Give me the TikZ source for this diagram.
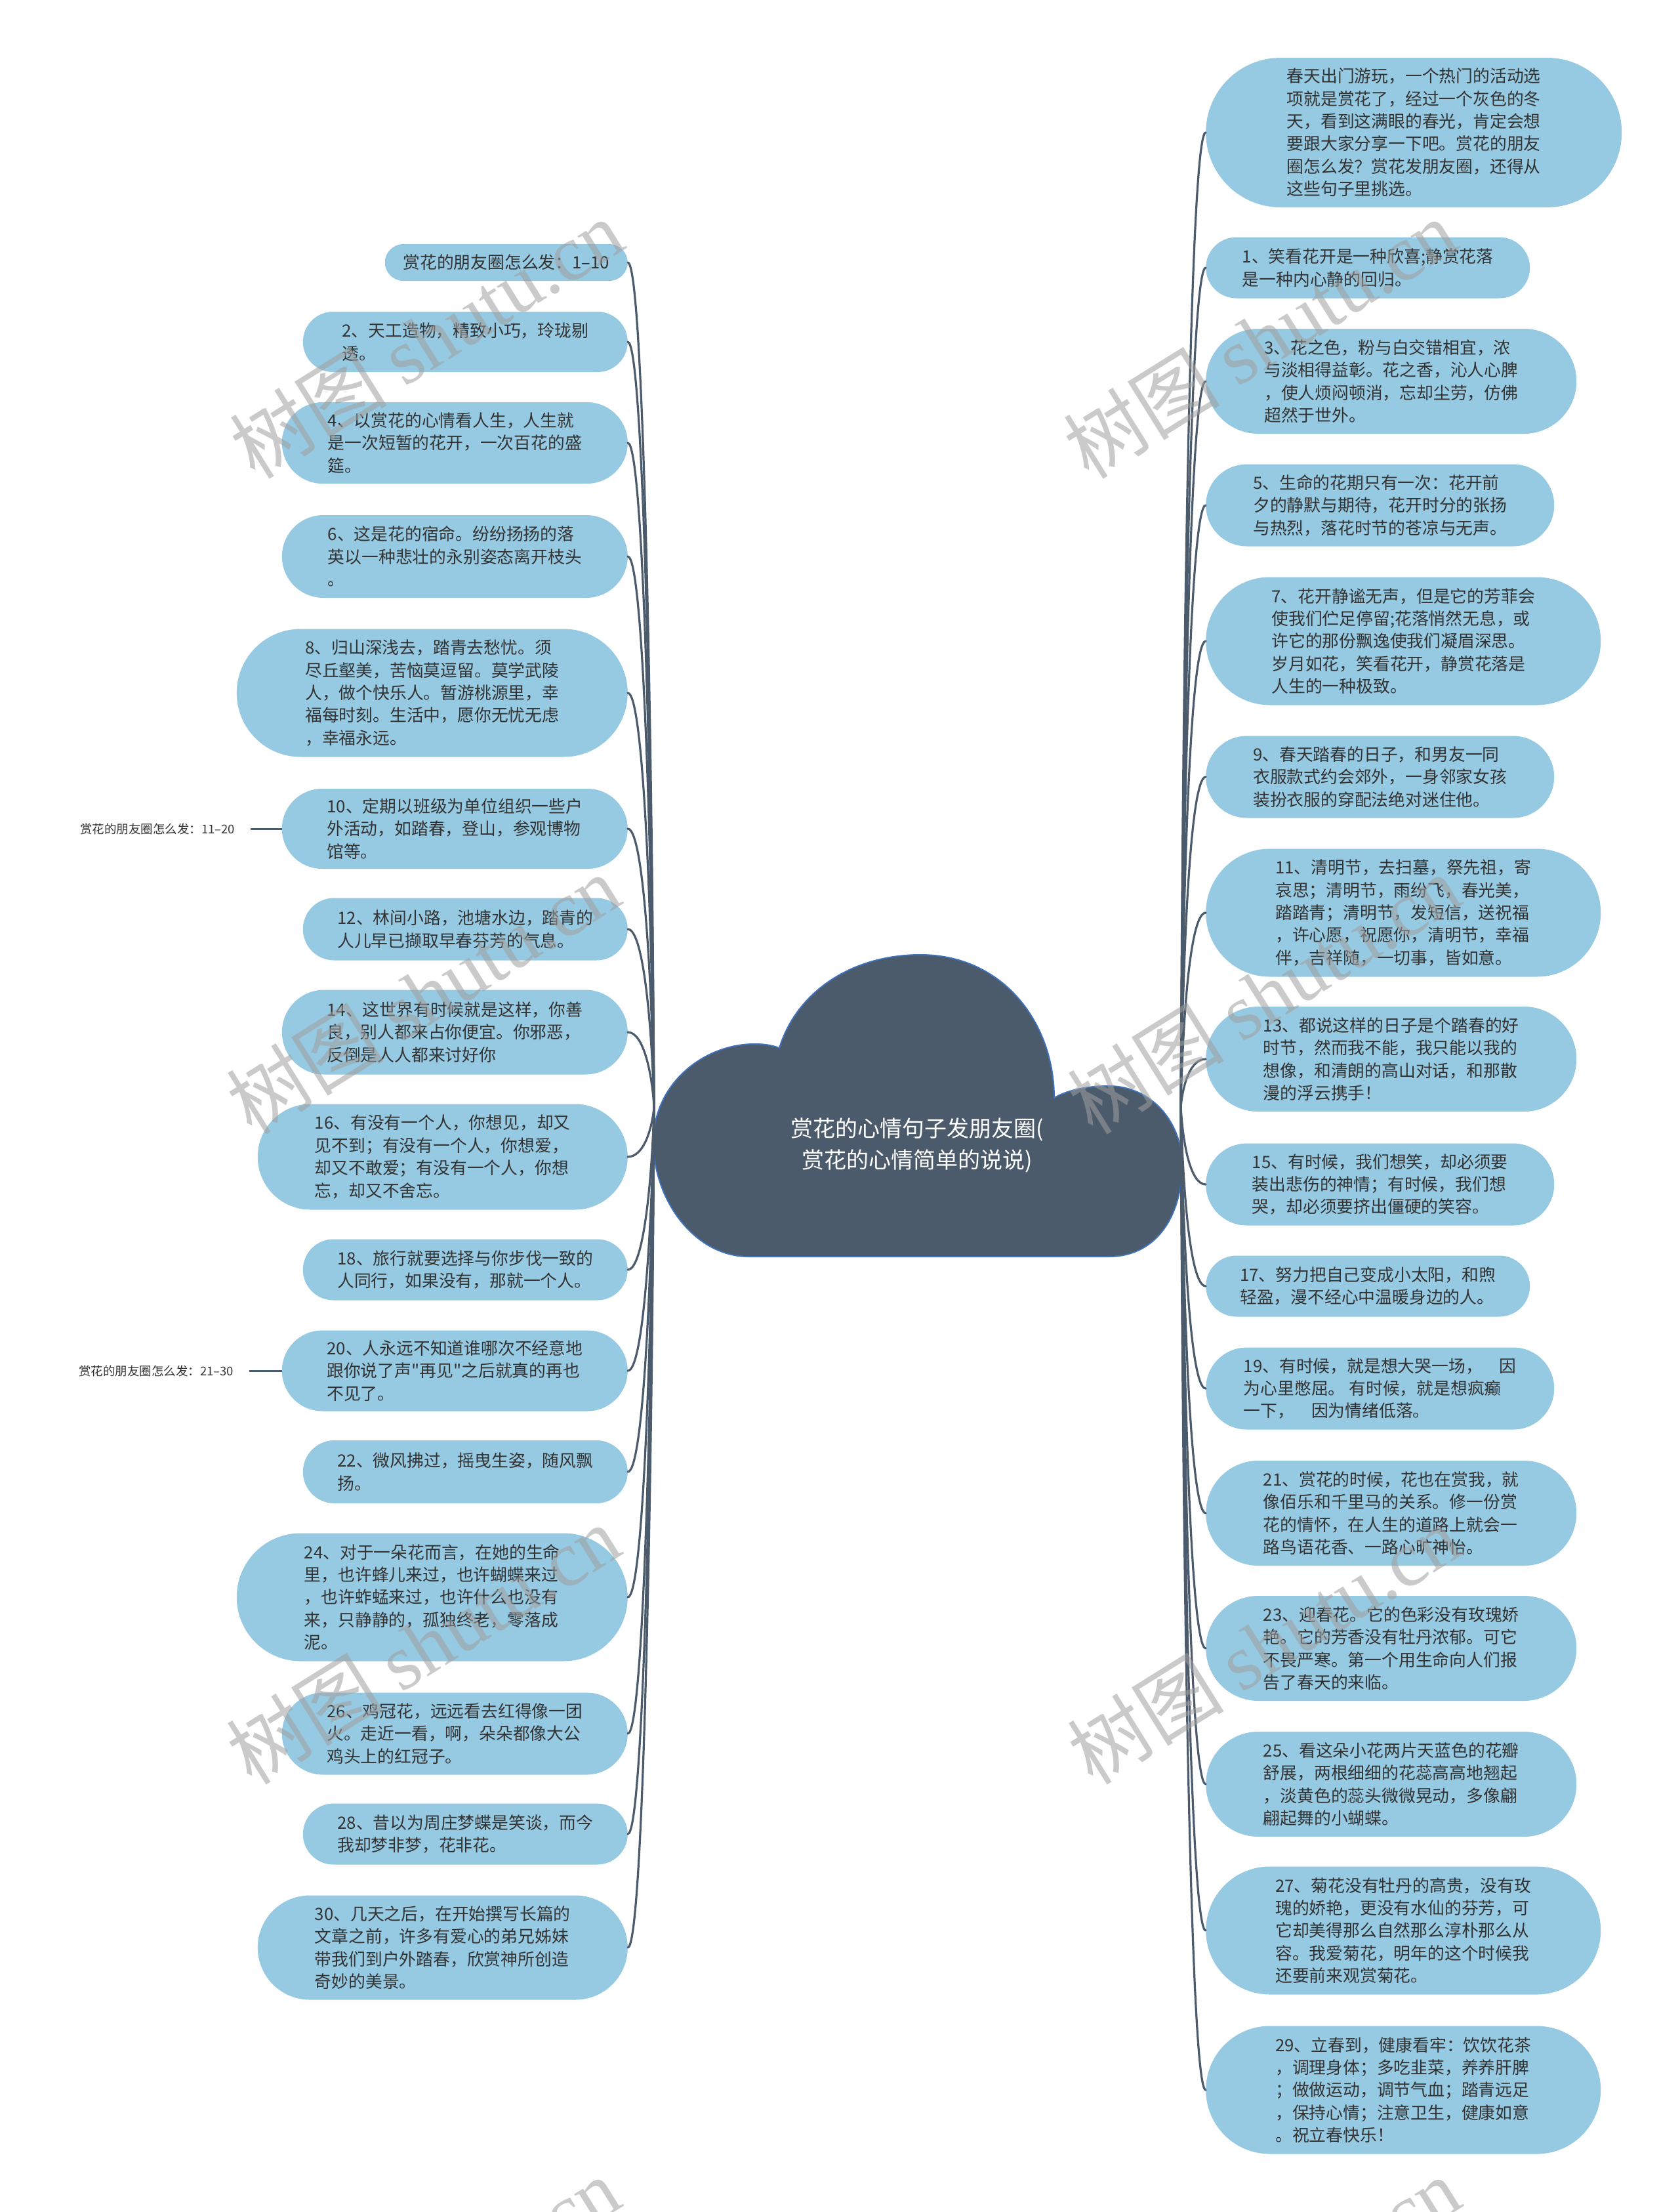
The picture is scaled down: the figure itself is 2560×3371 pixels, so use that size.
\documentclass[tikz,border=0pt]{standalone}
\usepackage{fontspec}
\setmainfont{Noto Sans CJK SC}
\newfontfamily\cjk{Noto Sans CJK SC}
\newfontfamily\wmserif{Liberation Serif}
\usetikzlibrary{shapes.misc,calc}
\definecolor{leafblue}{HTML}{96C9E2}
\definecolor{cloudslate}{HTML}{4B5B6C}
\definecolor{cloudrim}{HTML}{3F72B8}
\definecolor{inkgray}{HTML}{333333}
\definecolor{wmgray}{HTML}{A0A0A0}
\tikzset{
  leaf/.style={rounded rectangle, fill=leafblue, text=inkgray, align=left,
    inner sep=0pt, font=\cjk\fontsize{25.8pt}{34.4pt}\selectfont},
  leafL/.style={leaf, anchor=east},
  leafR/.style={leaf, anchor=west},
  trunk/.style={draw=cloudslate, line width=3.2pt, line cap=round},
  twig/.style={draw=cloudslate, line width=3pt},
  sidelabel/.style={text=inkgray, inner sep=0pt,
    font=\cjk\fontsize{18.5pt}{22pt}\selectfont},
  wmtext/.style={text=wmgray, opacity=.55, rotate=32,
    font=\cjk\fontsize{120pt}{130pt}\selectfont},
}
\begin{document}
\begin{tikzpicture}[x=1pt,y=-1pt]
    \fill[white] (0,0) rectangle (2560,3371);
    \useasboundingbox (0,0) rectangle (2560,3371);
    % centre cloud
    \fill[cloudslate, draw=cloudrim, line width=2pt]
        (1141,1915) .. controls (1060,1915) and (996,1830) .. (996,1740)
        .. controls (996,1650) and (1075,1590) .. (1152,1591)
        .. controls (1168,1591) and (1180,1594) .. (1188,1597)
        .. controls (1215,1510) and (1300,1455) .. (1403,1455)
        .. controls (1530,1455) and (1607,1560) .. (1607,1673)
        .. controls (1630,1660) and (1660,1655) .. (1690,1655)
        .. controls (1755,1655) and (1802,1710) .. (1802,1775)
        .. controls (1802,1850) and (1765,1915) .. (1690,1915) -- cycle;
    \node[text=white, align=center, font=\cjk\fontsize{34pt}{48pt}\selectfont]
        (root) at (1398,1745) {赏花的心情句子发朋友圈(\\赏花的心情简单的说说)};
    \coordinate (rootL) at (997,1687);
    \coordinate (rootR) at (1800,1687);
    % left branch
    \node[leafL, minimum width=370pt, minimum height=56pt] (l1) at (957,400)
        {赏花的朋友圈怎么发：1–10};
    \node[leafL, minimum width=495pt, minimum height=92pt] (l2) at (957,521)
        {2、天工造物，精致小巧，玲珑剔\\透。};
    \node[leafL, minimum width=527pt, minimum height=124pt] (l3) at (957,675)
        {4、以赏花的心情看人生，人生就\\是一次短暂的花开，一次百花的盛\\筵。};
    \node[leafL, minimum width=527pt, minimum height=126pt] (l4) at (957,848)
        {6、这是花的宿命。纷纷扬扬的落\\英以一种悲壮的永别姿态离开枝头\\。};
    \node[leafL, minimum width=596pt, minimum height=195pt] (l5) at (957,1056)
        {8、归山深浅去，踏青去愁忧。须\\尽丘壑美，苦恼莫逗留。莫学武陵\\人，做个快乐人。暂游桃源里，幸\\福每时刻。生活中，愿你无忧无虑\\，幸福永远。};
    \node[leafL, minimum width=527pt, minimum height=122pt] (l6) at (957,1263)
        {10、定期以班级为单位组织一些户\\外活动，如踏春，登山，参观博物\\馆等。};
    \node[leafL, minimum width=495pt, minimum height=95pt] (l7) at (957,1416)
        {12、林间小路，池塘水边，踏青的\\人儿早已撷取早春芬芳的气息。};
    \node[leafL, minimum width=527pt, minimum height=129pt] (l8) at (957,1573)
        {14、这世界有时候就是这样，你善\\良，别人都来占你便宜。你邪恶，\\反倒是人人都来讨好你};
    \node[leafL, minimum width=564pt, minimum height=161pt] (l9) at (957,1763)
        {16、有没有一个人，你想见，却又\\见不到；有没有一个人，你想爱，\\却又不敢爱；有没有一个人，你想\\忘，却又不舍忘。};
    \node[leafL, minimum width=495pt, minimum height=93pt] (l10) at (957,1935)
        {18、旅行就要选择与你步伐一致的\\人同行，如果没有，那就一个人。};
    \node[leafL, minimum width=527pt, minimum height=123pt] (l11) at (957,2089)
        {20、人永远不知道谁哪次不经意地\\跟你说了声"再见"之后就真的再也\\不见了。};
    \node[leafL, minimum width=495pt, minimum height=96pt] (l12) at (957,2243)
        {22、微风拂过，摇曳生姿，随风飘\\扬。};
    \node[leafL, minimum width=596pt, minimum height=195pt] (l13) at (957,2434)
        {24、对于一朵花而言，在她的生命\\里，也许蜂儿来过，也许蝴蝶来过\\，也许蚱蜢来过，也许什么也没有\\来，只静静的，孤独终老，零落成\\泥。};
    \node[leafL, minimum width=527pt, minimum height=125pt] (l14) at (957,2642)
        {26、鸡冠花，远远看去红得像一团\\火。走近一看，啊，朵朵都像大公\\鸡头上的红冠子。};
    \node[leafL, minimum width=495pt, minimum height=93pt] (l15) at (957,2795)
        {28、昔以为周庄梦蝶是笑谈，而今\\我却梦非梦，花非花。};
    \node[leafL, minimum width=564pt, minimum height=159pt] (l16) at (957,2968)
        {30、几天之后，在开始撰写长篇的\\文章之前，许多有爱心的弟兄姊妹\\带我们到户外踏春，欣赏神所创造\\奇妙的美景。};
    % right branch
    \node[leafR, minimum width=634pt, minimum height=228pt] (r1) at (1838,202)
        {春天出门游玩，一个热门的活动选\\项就是赏花了，经过一个灰色的冬\\天，看到这满眼的春光，肯定会想\\要跟大家分享一下吧。赏花的朋友\\圈怎么发？赏花发朋友圈，还得从\\这些句子里挑选。};
    \node[leafR, minimum width=494pt, minimum height=93pt] (r2) at (1838,408)
        {1、笑看花开是一种欣喜;静赏花落\\是一种内心静的回归。};
    \node[leafR, minimum width=565pt, minimum height=160pt] (r3) at (1838,581)
        {3、花之色，粉与白交错相宜，浓\\与淡相得益彰。花之香，沁人心脾\\，使人烦闷顿消，忘却尘劳，仿佛\\超然于世外。};
    \node[leafR, minimum width=531pt, minimum height=125pt] (r4) at (1838,770)
        {5、生命的花期只有一次：花开前\\夕的静默与期待，花开时分的张扬\\与热烈，落花时节的苍凉与无声。};
    \node[leafR, minimum width=602pt, minimum height=195pt] (r5) at (1838,977)
        {7、花开静谧无声，但是它的芳菲会\\使我们伫足停留;花落悄然无息，或\\许它的那份飘逸使我们凝眉深思。\\岁月如花，笑看花开，静赏花落是\\人生的一种极致。};
    \node[leafR, minimum width=531pt, minimum height=125pt] (r6) at (1838,1184)
        {9、春天踏春的日子，和男友一同\\衣服款式约会郊外，一身邻家女孩\\装扮衣服的穿配法绝对迷住他。};
    \node[leafR, minimum width=602pt, minimum height=195pt] (r7) at (1838,1391)
        {11、清明节，去扫墓，祭先祖，寄\\哀思；清明节，雨纷飞，春光美，\\踏踏青；清明节，发短信，送祝福\\，许心愿，祝愿你，清明节，幸福\\伴，吉祥随，一切事，皆如意。};
    \node[leafR, minimum width=565pt, minimum height=160pt] (r8) at (1838,1614)
        {13、都说这样的日子是个踏春的好\\时节，然而我不能，我只能以我的\\想像，和清朗的高山对话，和那散\\漫的浮云携手！};
    \node[leafR, minimum width=531pt, minimum height=125pt] (r9) at (1838,1805)
        {15、有时候，我们想笑，却必须要\\装出悲伤的神情；有时候，我们想\\哭，却必须要挤出僵硬的笑容。};
    \node[leafR, minimum width=494pt, minimum height=93pt] (r10) at (1838,1960)
        {17、努力把自己变成小太阳，和煦\\轻盈，漫不经心中温暖身边的人。};
    \node[leafR, minimum width=531pt, minimum height=125pt] (r11) at (1838,2116)
        {19、有时候，就是想大哭一场，　因\\为心里憋屈。 有时候，就是想疯癫\\一下，　因为情绪低落。};
    \node[leafR, minimum width=565pt, minimum height=160pt] (r12) at (1838,2306)
        {21、赏花的时候，花也在赏我，就\\像佰乐和千里马的关系。修一份赏\\花的情怀，在人生的道路上就会一\\路鸟语花香、一路心旷神怡。};
    \node[leafR, minimum width=565pt, minimum height=160pt] (r13) at (1838,2512)
        {23、迎春花。它的色彩没有玫瑰娇\\艳。它的芳香没有牡丹浓郁。可它\\不畏严寒。第一个用生命向人们报\\告了春天的来临。};
    \node[leafR, minimum width=565pt, minimum height=160pt] (r14) at (1838,2719)
        {25、看这朵小花两片天蓝色的花瓣\\舒展，两根细细的花蕊高高地翘起\\，淡黄色的蕊头微微晃动，多像翩\\翩起舞的小蝴蝶。};
    \node[leafR, minimum width=602pt, minimum height=195pt] (r15) at (1838,2942)
        {27、菊花没有牡丹的高贵，没有玫\\瑰的娇艳，更没有水仙的芬芳，可\\它却美得那么自然那么淳朴那么从\\容。我爱菊花，明年的这个时候我\\还要前来观赏菊花。};
    \node[leafR, minimum width=602pt, minimum height=195pt] (r16) at (1838,3185)
        {29、立春到，健康看牢：饮饮花茶\\，调理身体；多吃韭菜，养养肝脾\\；做做运动，调节气血；踏青远足\\，保持心情；注意卫生，健康如意\\。祝立春快乐！};
    % connectors
    \foreach \i in {1,...,16} {
        \draw[trunk] let \p1=(rootL), \p2=(l\i.east) in
            (\p1) .. controls +(-3pt,{0.45*(\y2)-0.45*(\y1)}) and +(24pt,0pt) .. (\p2);
        \draw[trunk] let \p1=(rootR), \p2=(r\i.west) in
            (\p1) .. controls +(3pt,{0.45*(\y2)-0.45*(\y1)}) and +(-24pt,0pt) .. (\p2);
    }
    % side labels
    \node[sidelabel] (s1) at (240,1263) {赏花的朋友圈怎么发：11–20};
    \node[sidelabel] (s2) at (238,2089) {赏花的朋友圈怎么发：21–30};
    \draw[twig, shorten <=24pt] (s1) -- (l6);
    \draw[twig, shorten <=24pt] (s2) -- (l11);
    % watermarks
    \foreach \wx/\wy [count=\k] in {650/516, 1920/516, 645/1515, 1926/1515,
        645/2506, 1926/2506, 645/3500, 1926/3500}
        \node[wmtext] (wm\k) at (\wx,\wy) {树图 {\wmserif shutu.cn}};
\end{tikzpicture}
\end{document}
